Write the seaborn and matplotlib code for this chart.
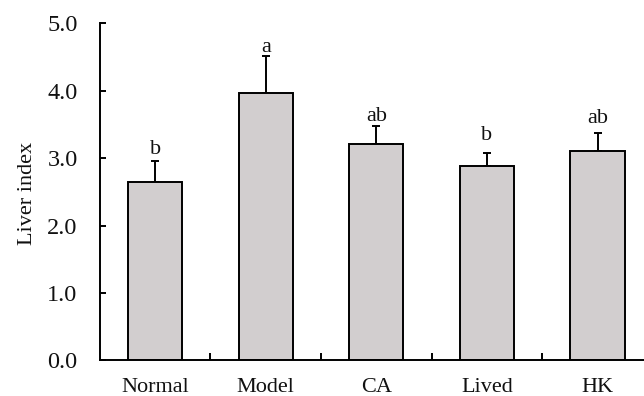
import matplotlib
matplotlib.use("Agg")
import matplotlib.pyplot as plt
import seaborn as sns
import pandas as pd
import numpy as np

groups = ["Normal", "Model", "CA", "Lived", "HK"]
liver_index = [2.64, 3.97, 3.21, 2.89, 3.10]
errors = [0.32, 0.55, 0.26, 0.19, 0.27]
letters = ["b", "a", "ab", "b", "ab"]
yticks = [0.0, 1.0, 2.0, 3.0, 4.0, 5.0]

# gap (points) between each error cap and its significance letter
letter_offsets = [5.0, 2.4, 3.6, 8.9, 7.4]

sns.set_theme(style="ticks")
plt.rcParams["font.family"] = ["Liberation Serif", "DejaVu Serif"]

df = pd.DataFrame({"group": groups, "value": liver_index})

fig = plt.figure(figsize=(6.44, 3.96), dpi=100)
W, H = 644, 396
left, right, bottom, top = 99.8, 652.8, 360.3, 23.3
ax = fig.add_axes([left / W, (H - bottom) / H, (right - left) / W, (bottom - top) / H])

sns.barplot(data=df, x="group", y="value", ax=ax, color="#d2cecf",
            edgecolor="black", linewidth=1.4, width=0.49, errorbar=None,
            saturation=1)
x = np.arange(len(groups))
ax.errorbar(x, liver_index, yerr=[np.zeros(len(errors)), errors], fmt="none",
            ecolor="black", elinewidth=1.4, capsize=2.8, capthick=1.4, zorder=0)

for xi, v, e, lt, off in zip(x, liver_index, errors, letters, letter_offsets):
    ax.annotate(lt, (xi, v + e), xytext=(0, off), textcoords="offset points",
                ha="center", va="baseline", fontsize=16, color="#111111")

ax.set_xlim(-0.5, len(groups) - 0.5)
ax.set_ylim(0, 5)
ax.set_yticks(yticks)
ax.set_yticklabels([f"{t:.1f}" for t in yticks])
ax.set_xlabel("")
ax.set_ylabel("")
fig.text(27 / W, 0.512, "Liver index", rotation=90, ha="center", va="center",
         fontsize=16, color="#111111")

for s in ["top", "right"]:
    ax.spines[s].set_visible(False)
for s in ["left", "bottom"]:
    ax.spines[s].set_linewidth(1.4)
    ax.spines[s].set_color("black")

ax.tick_params(axis="y", direction="in", length=4.5, width=1.4, pad=16,
               labelsize=17.5, colors="black", labelcolor="#111111")
ax.tick_params(axis="x", which="major", length=0, pad=13, labelsize=16,
               labelcolor="#111111")
ax.set_xticks(np.arange(len(groups) - 1) + 0.5, minor=True)
ax.tick_params(axis="x", which="minor", direction="in", length=5, width=1.4,
               colors="black")

fig.savefig("out.png", dpi=100)
